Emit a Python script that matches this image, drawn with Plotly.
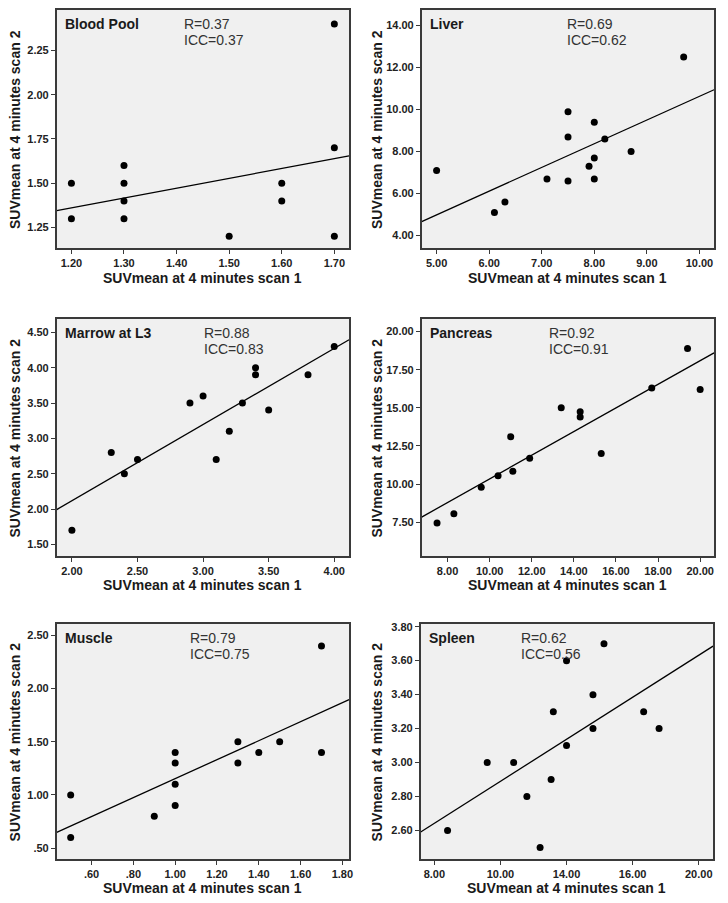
import numpy as np
import plotly.graph_objects as go

# ---------------- data ----------------
panel_names = ["Blood Pool", "Liver", "Marrow at L3", "Pancreas", "Muscle", "Spleen"]
r_values = ["0.37", "0.69", "0.88", "0.92", "0.79", "0.62"]
icc_values = ["0.37", "0.62", "0.83", "0.91", "0.75", "0.56"]

blood_scan1 = [1.2, 1.2, 1.3, 1.3, 1.3, 1.3, 1.5, 1.6, 1.6, 1.7, 1.7, 1.7]
blood_scan2 = [1.5, 1.3, 1.6, 1.5, 1.4, 1.3, 1.2, 1.5, 1.4, 2.4, 1.7, 1.2]

liver_scan1 = [5.0, 6.1, 6.3, 7.1, 7.5, 7.5, 7.5, 7.9, 8.0, 8.0, 8.0, 8.2, 8.7, 9.7]
liver_scan2 = [7.1, 5.1, 5.6, 6.7, 9.9, 8.7, 6.6, 7.3, 9.4, 7.7, 6.7, 8.6, 8.0, 12.5]

marrow_scan1 = [2.0, 2.3, 2.4, 2.5, 2.9, 3.0, 3.1, 3.2, 3.3, 3.4, 3.4, 3.5, 3.8, 4.0]
marrow_scan2 = [1.7, 2.8, 2.5, 2.7, 3.5, 3.6, 2.7, 3.1, 3.5, 4.0, 3.9, 3.4, 3.9, 4.3]

pancreas_scan1 = [7.5, 8.3, 9.6, 10.4, 11.0, 11.1, 11.9, 13.4, 14.3, 14.3, 15.3, 17.7, 19.4, 20.0]
pancreas_scan2 = [7.45, 8.05, 9.8, 10.55, 13.1, 10.85, 11.7, 15.0, 14.75, 14.4, 12.0, 16.3, 18.9, 16.2]

muscle_scan1 = [0.5, 0.5, 0.9, 1.0, 1.0, 1.0, 1.0, 1.3, 1.3, 1.4, 1.5, 1.7, 1.7]
muscle_scan2 = [1.0, 0.6, 0.8, 1.4, 1.3, 1.1, 0.9, 1.5, 1.3, 1.4, 1.5, 2.4, 1.4]

spleen_scan1 = [8.6, 10.4, 11.6, 12.2, 12.8, 13.3, 13.4, 14.0, 14.0, 15.2, 15.2, 15.7, 17.5, 18.2]
spleen_scan2 = [2.6, 3.0, 3.0, 2.8, 2.5, 2.9, 3.3, 3.6, 3.1, 3.4, 3.2, 3.7, 3.3, 3.2]

# tick values / labels
blood_xticks = [1.2, 1.3, 1.4, 1.5, 1.6, 1.7]
blood_xlabels = ["1.20", "1.30", "1.40", "1.50", "1.60", "1.70"]
blood_yticks = [1.25, 1.5, 1.75, 2.0, 2.25]
blood_ylabels = ["1.25", "1.50", "1.75", "2.00", "2.25"]

liver_xticks = [5, 6, 7, 8, 9, 10]
liver_xlabels = ["5.00", "6.00", "7.00", "8.00", "9.00", "10.00"]
liver_yticks = [4, 6, 8, 10, 12, 14]
liver_ylabels = ["4.00", "6.00", "8.00", "10.00", "12.00", "14.00"]

marrow_xticks = [2.0, 2.5, 3.0, 3.5, 4.0]
marrow_xlabels = ["2.00", "2.50", "3.00", "3.50", "4.00"]
marrow_yticks = [1.5, 2.0, 2.5, 3.0, 3.5, 4.0, 4.5]
marrow_ylabels = ["1.50", "2.00", "2.50", "3.00", "3.50", "4.00", "4.50"]

pancreas_xticks = [8, 10, 12, 14, 16, 18, 20]
pancreas_xlabels = ["8.00", "10.00", "12.00", "14.00", "16.00", "18.00", "20.00"]
pancreas_yticks = [7.5, 10, 12.5, 15, 17.5, 20]
pancreas_ylabels = ["7.50", "10.00", "12.50", "15.00", "17.50", "20.00"]

muscle_xticks = [0.6, 0.8, 1.0, 1.2, 1.4, 1.6, 1.8]
muscle_xlabels = [".60", ".80", "1.00", "1.20", "1.40", "1.60", "1.80"]
muscle_yticks = [0.5, 1.0, 1.5, 2.0, 2.5]
muscle_ylabels = [".50", "1.00", "1.50", "2.00", "2.50"]

spleen_xticks = [8, 11, 14, 17, 20]
spleen_xlabels = ["8.00", "10.00", "14.00", "16.00", "20.00"]
spleen_yticks = [2.6, 2.8, 3.0, 3.2, 3.4, 3.6, 3.8]
spleen_ylabels = ["2.60", "2.80", "3.00", "3.20", "3.40", "3.60", "3.80"]

x_title = "SUVmean at 4 minutes scan 1"
y_title = "SUVmean at 4 minutes scan 2"

# ---------------- layout geometry (reference page pixels) ----------------
W, H = 728, 903


def px2x(px):
    return min(1.0, max(0.0, px / W))


def py2y(py):
    return min(1.0, max(0.0, 1 - py / H))


col_px = [(57, 351), (424, 718), (57, 351), (424, 718), (57, 351), (423, 717)]
row_px = [(7, 246), (7, 246), (317, 555), (317, 555), (623, 859), (623, 859)]
xranges = [(1.172, 1.728), (4.716, 10.278), (1.884, 4.113), (6.77, 20.66), (0.433, 1.832), (7.38, 20.65)]
yranges = [(1.133, 2.479), (3.40, 14.745), (1.335, 4.689), (5.275, 20.83), (0.397, 2.607), (2.432, 3.816)]
r_xpos = [0.429, 0.49, 0.498, 0.43, 0.45, 0.337]
xtitle_px = [276, 276, 584, 584, 888, 888]
ytitle_px = [15, 379, 15, 379, 15, 379]

xs = [blood_scan1, liver_scan1, marrow_scan1, pancreas_scan1, muscle_scan1, spleen_scan1]
ys = [blood_scan2, liver_scan2, marrow_scan2, pancreas_scan2, muscle_scan2, spleen_scan2]
xt = [(blood_xticks, blood_xlabels), (liver_xticks, liver_xlabels), (marrow_xticks, marrow_xlabels),
      (pancreas_xticks, pancreas_xlabels), (muscle_xticks, muscle_xlabels), (spleen_xticks, spleen_xlabels)]
yt = [(blood_yticks, blood_ylabels), (liver_yticks, liver_ylabels), (marrow_yticks, marrow_ylabels),
      (pancreas_yticks, pancreas_ylabels), (muscle_yticks, muscle_ylabels), (spleen_yticks, spleen_ylabels)]

FONT = "Liberation Sans, Arial, sans-serif"
fig = go.Figure()
annotations = []
layout_axes = {}

for i in range(6):
    sfx = "" if i == 0 else str(i + 1)
    xa, ya = "x" + sfx, "y" + sfx
    x = np.array(xs[i]); y = np.array(ys[i])
    slope, intercept = np.polyfit(x, y, 1)
    lx = np.array(xranges[i])
    fig.add_trace(go.Scatter(x=lx, y=slope * lx + intercept, mode="lines",
                             line=dict(color="black", width=1.3), xaxis=xa, yaxis=ya,
                             showlegend=False, hoverinfo="skip"))
    fig.add_trace(go.Scatter(x=x, y=y, mode="markers",
                             marker=dict(color="black", size=7), xaxis=xa, yaxis=ya,
                             showlegend=False))
    x0, x1 = col_px[i]; y0, y1 = row_px[i]
    common = dict(showgrid=False, zeroline=False, showline=True, linecolor="#3a3a3a",
                  linewidth=1.5, mirror=True, ticks="outside", ticklen=4, tickwidth=1,
                  tickcolor="#3a3a3a",
                  tickfont=dict(family=FONT, size=11, color="#222222"))
    layout_axes["xaxis" + sfx] = dict(common, domain=[px2x(x0), px2x(x1)], range=list(xranges[i]),
                                      anchor=ya, tickvals=xt[i][0],
                                      ticktext=["<b>%s</b>" % t for t in xt[i][1]])
    layout_axes["yaxis" + sfx] = dict(common, domain=[py2y(y1), py2y(y0)], range=list(yranges[i]),
                                      anchor=xa, tickvals=yt[i][0],
                                      ticktext=["<b>%s</b>" % t for t in yt[i][1]])
    hpx = y1 - y0
    annotations.append(dict(xref=xa + " domain", yref=ya + " domain", x=6 / (x1 - x0), y=1 - 14 / hpx,
                            xanchor="left", yanchor="middle", showarrow=False, text="<b>%s</b>" % panel_names[i],
                            font=dict(family=FONT, size=14, color="#1a1a1a")))
    annotations.append(dict(xref=xa + " domain", yref=ya + " domain", x=r_xpos[i], y=1 - 14 / hpx,
                            xanchor="left", yanchor="middle", showarrow=False, text="R=" + r_values[i],
                            font=dict(family=FONT, size=14, color="#333333")))
    annotations.append(dict(xref=xa + " domain", yref=ya + " domain", x=r_xpos[i], y=1 - 30 / hpx,
                            xanchor="left", yanchor="middle", showarrow=False, text="ICC=" + icc_values[i],
                            font=dict(family=FONT, size=14, color="#333333")))
    annotations.append(dict(xref="paper", yref="paper", x=px2x((x0 + x1) / 2), y=py2y(xtitle_px[i]),
                            xanchor="center", yanchor="middle", showarrow=False, text="<b>%s</b>" % x_title,
                            font=dict(family=FONT, size=14, color="#1a1a1a")))
    annotations.append(dict(xref="paper", yref="paper", x=px2x(ytitle_px[i]), y=py2y((y0 + y1) / 2),
                            xanchor="center", yanchor="middle", showarrow=False, textangle=-90,
                            text="<b>%s</b>" % y_title,
                            font=dict(family=FONT, size=14, color="#1a1a1a")))

fig.update_layout(width=W, height=H, margin=dict(l=0, r=0, t=0, b=0),
                  paper_bgcolor="white", plot_bgcolor="#f0f0f0",
                  annotations=annotations, **layout_axes)

page_fix = ("document.body.style.margin='0';document.body.style.padding='0';"
            "document.body.style.overflow='hidden';"
            "document.documentElement.style.overflow='hidden';")
fig.write_html("out.html", post_script=page_fix, config={"displayModeBar": False})
